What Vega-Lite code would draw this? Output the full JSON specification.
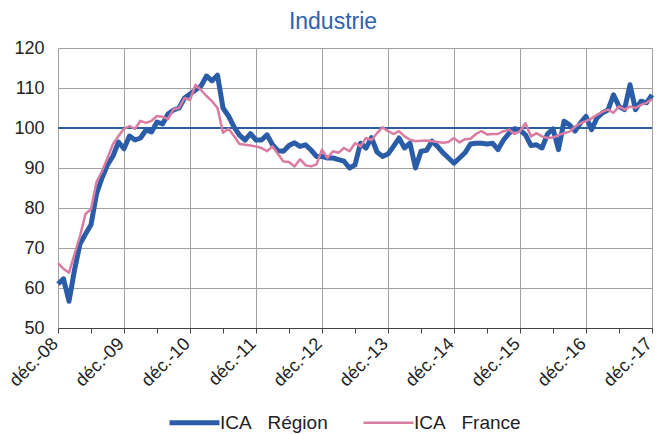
{
  "$schema": "https://vega.github.io/schema/vega-lite/v6.json",
  "autosize": "none",
  "width": 594,
  "height": 280,
  "padding": {"left": 58, "top": 48, "right": 4, "bottom": 106},
  "background": "white",
  "title": {"text": "Industrie", "fontSize": 23, "color": "#2E62AE", "font": "Liberation Sans", "fontWeight": "normal", "anchor": "middle", "offset": 5, "dx": -22},
  "config": {"view": {"stroke": null}, "font": "Liberation Sans"},
  "data": {"values": [
    {"m":0,"Région":61,"France":66.2},{"m":1,"Région":62.3,"France":64.8},{"m":2,"Région":56.7,"France":63.8},{"m":3,"Région":64.5,"France":68.5},
    {"m":4,"Région":71,"France":73},{"m":5,"Région":73.5,"France":78.5},{"m":6,"Région":75.8,"France":79.7},{"m":7,"Région":83.5,"France":86.5},
    {"m":8,"Région":87.5,"France":89.2},{"m":9,"Région":90.8,"France":92.5},{"m":10,"Région":93,"France":96},{"m":11,"Région":96.5,"France":98},
    {"m":12,"Région":94.8,"France":99.8},{"m":13,"Région":98,"France":100.5},{"m":14,"Région":97,"France":99.8},{"m":15,"Région":97.5,"France":101.8},
    {"m":16,"Région":99.5,"France":101.3},{"m":17,"Région":99,"France":101.8},{"m":18,"Région":101.5,"France":103},{"m":19,"Région":101,"France":102.8},
    {"m":20,"Région":103.5,"France":102.2},{"m":21,"Région":104.5,"France":104.7},{"m":22,"Région":105,"France":105},{"m":23,"Région":107.5,"France":107.5},
    {"m":24,"Région":108.5,"France":107},{"m":25,"Région":109.5,"France":110.8},{"m":26,"Région":110.5,"France":109.5},{"m":27,"Région":113,"France":108},
    {"m":28,"Région":111.8,"France":106.7},{"m":29,"Région":113.2,"France":105},{"m":30,"Région":105,"France":98.8},{"m":31,"Région":103,"France":99.8},
    {"m":32,"Région":100.3,"France":98},{"m":33,"Région":98.2,"France":96},{"m":34,"Région":97,"France":95.8},{"m":35,"Région":98.6,"France":95.6},
    {"m":36,"Région":97,"France":95.4},{"m":37,"Région":97,"France":95},{"m":38,"Région":98.3,"France":94.2},{"m":39,"Région":95.8,"France":95.4},
    {"m":40,"Région":94.3,"France":93.5},{"m":41,"Région":94.2,"France":91.6},{"m":42,"Région":95.6,"France":91.5},{"m":43,"Région":96.3,"France":90.4},
    {"m":44,"Région":95.4,"France":92.2},{"m":45,"Région":95.8,"France":90.7},{"m":46,"Région":94.5,"France":90.4},{"m":47,"Région":92.9,"France":90.9},
    {"m":48,"Région":92.9,"France":94.6},{"m":49,"Région":92.5,"France":92.5},{"m":50,"Région":92.5,"France":94.2},{"m":51,"Région":92.1,"France":93.8},
    {"m":52,"Région":91.7,"France":95},{"m":53,"Région":90,"France":94.2},{"m":54,"Région":90.8,"France":96.2},{"m":55,"Région":96.2,"France":95.4},
    {"m":56,"Région":95,"France":97.5},{"m":57,"Région":97.6,"France":97},{"m":58,"Région":94,"France":98.7},{"m":59,"Région":92.9,"France":100.2},
    {"m":60,"Région":93.5,"France":99.2},{"m":61,"Région":95.4,"France":98.5},{"m":62,"Région":97.5,"France":99.2},{"m":63,"Région":95,"France":97.9},
    {"m":64,"Région":96.2,"France":97.1},{"m":65,"Région":90,"France":96.7},{"m":66,"Région":94.2,"France":96.8},{"m":67,"Région":94.4,"France":96.9},
    {"m":68,"Région":96.7,"France":96.7},{"m":69,"Région":95.4,"France":96.5},{"m":70,"Région":93.8,"France":96.3},{"m":71,"Région":92.5,"France":96.5},
    {"m":72,"Région":91.2,"France":97.5},{"m":73,"Région":92.5,"France":96.4},{"m":74,"Région":93.8,"France":97.2},{"m":75,"Région":96,"France":97.3},
    {"m":76,"Région":96.2,"France":98.5},{"m":77,"Région":96.2,"France":99.2},{"m":78,"Région":96,"France":98.4},{"m":79,"Région":96.2,"France":98.5},
    {"m":80,"Région":94.6,"France":98.5},{"m":81,"Région":97,"France":99.2},{"m":82,"Région":98.7,"France":99.6},{"m":83,"Région":99.8,"France":98.5},
    {"m":84,"Région":99.5,"France":99.2},{"m":85,"Région":98.3,"France":101.2},{"m":86,"Région":95.6,"France":97.9},{"m":87,"Région":95.8,"France":98.7},
    {"m":88,"Région":95,"France":97.9},{"m":89,"Région":98.5,"France":97.5},{"m":90,"Région":99.8,"France":97.6},{"m":91,"Région":94.6,"France":98.2},
    {"m":92,"Région":101.7,"France":98.7},{"m":93,"Région":100.8,"France":99.1},{"m":94,"Région":99.2,"France":100.3},{"m":95,"Région":101.3,"France":101.2},
    {"m":96,"Région":102.9,"France":101.7},{"m":97,"Région":99.6,"France":102.4},{"m":98,"Région":102.5,"France":103.3},{"m":99,"Région":103.8,"France":104.1},
    {"m":100,"Région":104.5,"France":104.6},{"m":101,"Région":108.3,"France":103.8},{"m":102,"Région":105.4,"France":105.4},{"m":103,"Région":104.6,"France":104.6},
    {"m":104,"Région":110.8,"France":105.4},{"m":105,"Région":104.6,"France":105},{"m":106,"Région":106.7,"France":105.8},{"m":107,"Région":106.3,"France":106.3},
    {"m":108,"Région":108.3,"France":107.2}
  ]},
  "transform": [{"fold": ["Région", "France"], "as": ["key", "value"]}],
  "encoding": {
    "x": {"field": "m", "type": "quantitative", "scale": {"domain": [0, 108], "nice": false, "zero": false},
      "axis": {"title": null, "values": [0,6,12,18,24,30,36,42,48,54,60,66,72,78,84,90,96,102,108],
        "labelExpr": "datum.value % 12 == 0 ? 'déc.-' + (datum.value/12 + 8 < 10 ? '0' : '') + (datum.value/12 + 8) : ''",
        "labelAngle": -45, "labelAlign": "right", "labelBaseline": "middle", "labelPadding": 8, "labelOffset": -3, "labelFontSize": 18, "labelColor": "#222222",
        "labelFont": "Liberation Sans", "labelOverlap": false, "labelFlush": false, "labelBound": false,
        "tickSize": 5, "tickColor": "#444444", "domainColor": "#444444",
        "gridColor": "#A0A0A0", "gridOpacity": {"condition": {"test": "datum.value % 12 == 0", "value": 1}, "value": 0}}},
    "y": {"field": "value", "type": "quantitative", "scale": {"domain": [50, 120], "nice": false, "zero": false},
      "axis": {"title": null, "values": [50,60,70,80,90,100,110,120], "labelFontSize": 18, "labelColor": "#222222", "labelFont": "Liberation Sans",
        "tickSize": 0, "labelPadding": 14, "domain": false, "gridColor": "#A0A0A0"}}
  },
  "layer": [
    {"mark": {"type": "rule", "color": "#2A5CA8", "strokeWidth": 2}, "encoding": {"y": {"datum": 100}, "x": {"value": 0}, "x2": {"value": 594}}},
    {"transform": [{"filter": "datum.key == 'Région'"}],
      "mark": {"type": "line", "strokeWidth": 5, "strokeJoin": "round"},
      "encoding": {"color": {"field": "key", "type": "nominal",
        "scale": {"domain": ["Région", "France"], "range": ["#2A5CA8", "#DA7CA2"]},
        "legend": {"title": null, "orient": "none", "legendX": 127, "legendY": 365, "direction": "horizontal",
          "symbolType": "stroke", "symbolSize": 2500, "symbolStrokeWidth": 4, "labelFontSize": 19, "labelColor": "#222222", "labelFont": "Liberation Sans",
          "labelOffset": 16, "columnPadding": 30,
          "labelExpr": "'ICA\u00a0\u00a0\u00a0' + datum.label",
          "encode": {"symbols": {"update": {"strokeWidth": {"signal": "datum.value === 'Région' ? 5 : 2.5"}}}}}}}},
    {"transform": [{"filter": "datum.key == 'France'"}],
      "mark": {"type": "line", "strokeWidth": 2.5, "strokeJoin": "round"},
      "encoding": {"color": {"field": "key", "type": "nominal"}}}
  ]
}
